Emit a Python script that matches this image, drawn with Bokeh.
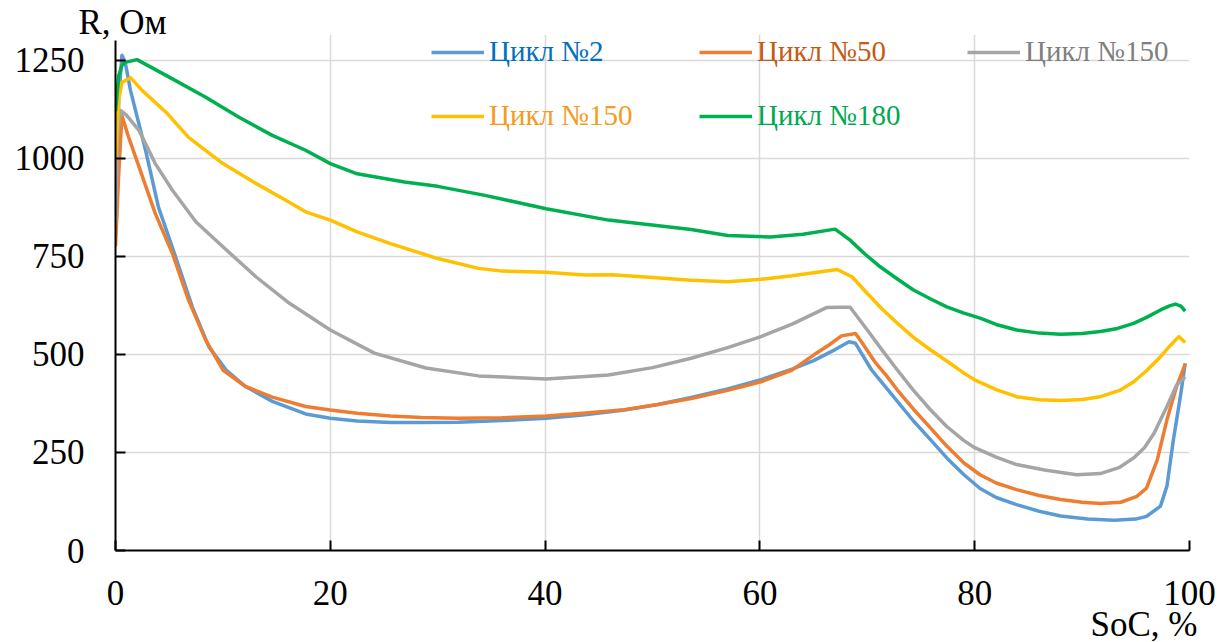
from bokeh.plotting import figure
from bokeh.models import Range1d, FixedTicker, Legend, LegendItem, Title
from bokeh.embed import file_html
from bokeh.resources import INLINE

# State of charge (%) and internal resistance (Ом) per cycle
soc_c2 = [0.1, 0.3, 0.6, 0.9, 1.4, 2.8, 4.0, 5.6, 7.15, 8.7, 10.3, 12.1, 14.6, 17.7, 20, 22.5,
          25.6, 28.5, 31.9, 36, 40.1, 43.5, 47.4, 50.5, 53.6, 57, 60.1, 63, 65, 67, 68.3, 68.9,
          70.4, 71.6, 72.8, 74.3, 75.9, 77.4, 79, 80.5, 82, 83.9, 86, 88, 90.5, 93, 95, 96,
          97.3, 97.9, 98.5, 99.2, 99.6]
r_c2 = [850, 1150, 1262, 1245, 1172, 1020, 875, 748, 621, 519, 460, 418, 380, 348, 337, 330,
        326, 326, 327, 331, 337, 345, 358, 372, 390, 412, 435, 462, 484, 512, 532, 528,
        460, 420, 380, 330, 282, 236, 193, 158, 135, 117, 100, 88, 80, 77, 80, 87,
        113, 164, 282, 401, 477]

soc_c50 = [0.0, 0.3, 0.6, 1.2, 2.2, 3.7, 5.3, 6.8, 8.4, 10.0, 12.1, 14.6, 17.7, 20, 22.5, 25.6,
           28.5, 31.9, 36, 40.1, 43.5, 47.4, 50.5, 53.6, 57, 60.1, 63, 65, 66.5, 67.6, 68.9, 69.5,
           70.7, 71.8, 72.8, 74.3, 75.9, 77.4, 79, 80.5, 82, 83.9, 86, 88, 90, 91.7, 93.6, 95.1,
           96.0, 97.0, 97.9, 98.8, 99.6]
r_c50 = [775, 960, 1108, 1055, 977, 859, 757, 638, 536, 460, 418, 391, 367, 358, 350, 343,
         339, 337, 338, 343, 350, 359, 372, 387, 408, 430, 460, 498, 525, 547, 553, 530,
         481, 445, 409, 360, 312, 266, 223, 193, 172, 155, 140, 130, 123, 120, 123, 138,
         159, 231, 333, 418, 475]

soc_c150a = [0.0, 0.2, 0.5, 1.0, 2.2, 3.7, 5.3, 7.5, 10.0, 13.1, 16.2, 20, 24.1, 28.9, 33.8, 40.1,
             45.9, 50, 53.6, 57, 60.1, 63, 66.2, 67.5, 68.4, 70, 71.4, 72.8, 74.3, 75.9, 77.4, 79,
             80, 82, 83.9, 86.5, 89.5, 91.7, 93.5, 94.8, 95.8, 96.7, 97.9, 98.8, 99.6]
r_c150a = [830, 1060, 1121, 1110, 1070, 986, 918, 837, 774, 697, 630, 562, 503, 465, 445, 437,
           447, 466, 490, 517, 545, 577, 619, 620, 620, 562, 510, 460, 408, 358, 316, 280,
           262, 238, 219, 205, 193, 196, 212, 236, 262, 299, 367, 422, 443]

soc_c150b = [0.0, 0.3, 0.6, 1.4, 2.5, 4.7, 6.8, 10.0, 13.1, 15.9, 17.7, 20, 22.5, 25.6, 30, 33.8,
             36, 40.1, 43.7, 46.2, 50, 53.6, 57, 60.1, 63, 65, 67.2, 68.6, 70, 71.4, 72.8, 74.3,
             75.9, 77.5, 79, 80, 82, 83.9, 86, 88, 90, 91.7, 93.5, 94.8, 96, 97.3, 98.2, 99.0, 99.6]
r_c150b = [994, 1150, 1193, 1205, 1172, 1117, 1053, 986, 935, 892, 863, 842, 812, 782, 744, 719,
           712, 709, 702, 703, 696, 689, 685, 691, 700, 708, 716, 697, 655, 615, 579, 543,
           511, 481, 452, 435, 410, 392, 384, 382, 385, 392, 408, 430, 458, 494, 522, 545, 530]

soc_c180 = [0.0, 0.3, 0.6, 0.9, 2.0, 5.3, 8.4, 11.5, 14.6, 17.7, 20, 22.5, 26.9, 30, 34.4, 40.1,
            45.9, 53.6, 57, 61, 64, 67.0, 68.4, 69.8, 71.2, 72.8, 74.3, 75.9, 77.4, 79, 80.5, 82,
            83.9, 86, 88, 90, 91.7, 93.3, 94.8, 96, 97.3, 98.2, 98.7, 99.2, 99.6]
r_c180 = [1120, 1210, 1236, 1244, 1251, 1202, 1155, 1104, 1058, 1020, 986, 960, 939, 928, 905, 871,
          842, 818, 803, 799, 806, 819, 791, 755, 723, 692, 664, 641, 621, 605, 592, 576,
          562, 554, 551, 553, 558, 566, 579, 594, 613, 624, 628, 623, 610]

x_ticks = [0, 20, 40, 60, 80, 100]
y_ticks = [0, 250, 500, 750, 1000, 1250]

series = [
    ("Цикл №2", soc_c2, r_c2, "#5B9BD5", "#0070C0"),
    ("Цикл №50", soc_c50, r_c50, "#ED7D31", "#C55A11"),
    ("Цикл №150", soc_c150a, r_c150a, "#A5A5A5", "#7F7F7F"),
    ("Цикл №150", soc_c150b, r_c150b, "#FFC000", "#F59B1E"),
    ("Цикл №180", soc_c180, r_c180, "#00B050", "#00A850"),
]

FONT = "Liberation Serif"

# A little headroom above 1300 keeps the top legend row inside the plot frame
p = figure(width=1229, height=642, output_backend="svg", toolbar_location=None,
           x_range=Range1d(0, 100), y_range=Range1d(0, 1315),
           min_border_left=115, min_border_right=40, min_border_top=34, min_border_bottom=91)
p.outline_line_color = None
p.background_fill_color = "white"
p.border_fill_color = "white"

for ax, ticks in ((p.xaxis, x_ticks), (p.yaxis, y_ticks)):
    ax.ticker = FixedTicker(ticks=ticks)
    ax.axis_line_color = "black"
    ax.axis_line_width = 2
    ax.major_tick_line_color = "black"
    ax.major_tick_line_width = 2
    ax.major_tick_in = 10
    ax.major_tick_out = 0
    ax.minor_tick_line_color = None
    ax.major_label_text_font = FONT
    ax.major_label_text_font_size = "35px"
    ax.major_label_text_color = "black"
p.yaxis.bounds = (0, 1300)
p.yaxis.major_label_standoff = 31
p.xaxis.major_label_standoff = 30

p.xgrid.ticker = FixedTicker(ticks=x_ticks[1:])
p.ygrid.ticker = FixedTicker(ticks=y_ticks[1:])
for g in (p.xgrid, p.ygrid):
    g.grid_line_color = "#D9D9D9"
    g.grid_line_width = 1.5

legend_pos = [(316, 482), (584, 482), (852, 482), (316, 418), (584, 418)]
for (name, xs, ys, line_col, text_col), pos in zip(series, legend_pos):
    r = p.line(xs, ys, line_color=line_col, line_width=3.5, line_join="round")
    leg = Legend(items=[LegendItem(label=name, renderers=[r])], location=pos,
                 padding=0, margin=0, spacing=0, border_line_color=None,
                 background_fill_alpha=0, glyph_width=53, glyph_height=30,
                 label_height=30, label_standoff=5,
                 label_text_font=FONT, label_text_font_size="29px",
                 label_text_color=text_col)
    p.add_layout(leg)

# Axis captions: value name top-left, argument name bottom-right
p.add_layout(Title(text="R, Ом", align="left", offset=-37, standoff=-14,
                   vertical_align="bottom", text_font=FONT, text_font_size="35px",
                   text_font_style="normal", text_color="black"), "above")
p.add_layout(Title(text="SoC, %", align="right", offset=-8, standoff=-6,
                   vertical_align="top", text_font=FONT, text_font_size="35px",
                   text_font_style="normal", text_color="black"), "below")

open("out.html", "w").write(file_html(p, INLINE))
